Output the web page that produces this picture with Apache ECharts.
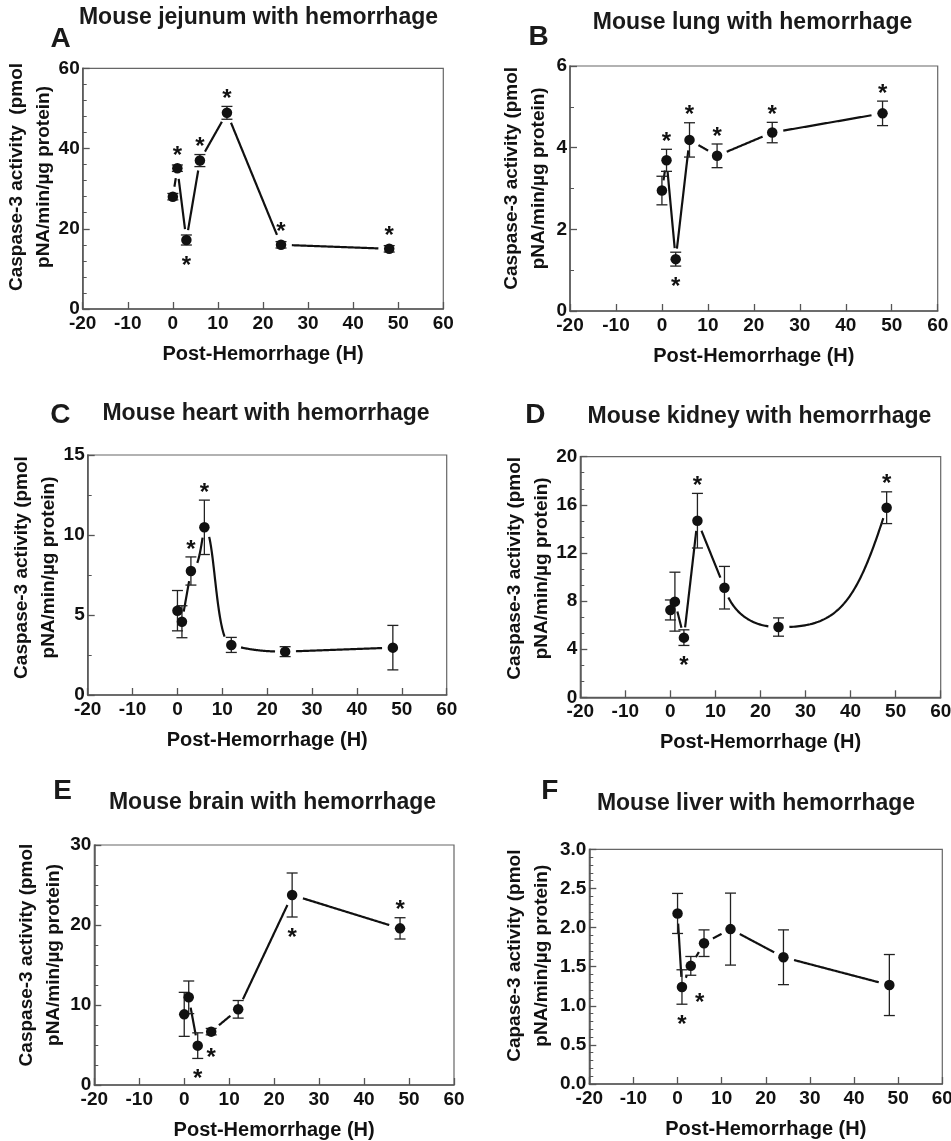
<!DOCTYPE html>
<html><head><meta charset="utf-8">
<script src="https://cdn.jsdelivr.net/npm/echarts@6/dist/echarts.min.js"></script>
<style>html,body{margin:0;padding:0;background:#fff}#c{width:951px;height:1141px}</style>
</head><body><div id="c"></div>
<script>
// ---------------- data ----------------
const hours = [0, 1, 3, 6, 12, 24, 48];
const xTicks = [-20, -10, 0, 10, 20, 30, 40, 50, 60];

const jejunumMean = [28.0, 35.1, 17.2, 37.0, 48.9, 16.0, 15.0];
const jejunumSem  = [0.8, 0.8, 1.25, 1.5, 1.6, 0.8, 0.8];
const jejunumSig  = ['', 'above', 'below', 'above', 'above', 'above', 'above'];
const jejunumTicks = [0, 20, 40, 60];

const lungMean = [2.95, 3.69, 1.27, 4.19, 3.80, 4.37, 4.84];
const lungSem  = [0.35, 0.27, 0.17, 0.42, 0.29, 0.25, 0.30];
const lungSig  = ['', 'above', 'below', 'above', 'above', 'above', 'above'];
const lungTicks = [0, 2, 4, 6];

const heartMean = [5.27, 4.58, 7.75, 10.48, 3.13, 2.71, 2.96];
const heartSem  = [1.26, 1.0, 0.88, 1.7, 0.47, 0.31, 1.39];
const heartSig  = ['', '', 'above', 'above', '', '', ''];
const heartTicks = [0, 5, 10, 15];

const kidneyMean = [7.26, 7.95, 4.96, 14.68, 9.11, 5.84, 15.76];
const kidneySem  = [0.83, 2.45, 0.65, 2.27, 1.77, 0.76, 1.32];
const kidneySig  = ['', '', 'below', 'above', '', '', 'above'];
const kidneyTicks = [0, 4, 8, 12, 16, 20];

const brainMean = [8.83, 10.96, 4.92, 6.67, 9.46, 23.75, 19.58];
const brainSem  = [2.75, 2.04, 1.6, 0.4, 1.1, 2.75, 1.33];
const brainSig  = ['', '', 'below', 'below', '', 'below', 'above'];
const brainTicks = [0, 10, 20, 30];

const liverMean = [2.18, 1.24, 1.51, 1.80, 1.98, 1.62, 1.265];
const liverSem  = [0.256, 0.22, 0.12, 0.17, 0.46, 0.35, 0.39];
const liverSig  = ['', 'below', 'belowRight', '', '', '', ''];
const liverTicks = ['0.0', '0.5', '1.0', '1.5', '2.0', '2.5', '3.0'];

// ---------------- styles / layout ----------------
const FONT = "'Liberation Sans', Arial, Helvetica, sans-serif";
const INK = '#111';
const AXIS = '#555';
const GAP = 10;        // px gap between connecting line and marker centre
const MARK = 10.5;     // marker diameter
const CAP = 5.5;       // error bar cap half width

// bezier control fractions per segment (style of the fitted connecting curve)
const STRAIGHT = [1/3, 1/3, 2/3, 2/3];
const S_CURVE = [0.5, 0, 0.5, 1];
const heartCurve = [STRAIGHT, STRAIGHT, [0.6, 0, 0.8, 0.7], [0.4, 0, 0.4, 1], [0.3, 0.7, 0.6, 1.0], STRAIGHT];
const kidneyCurve = [STRAIGHT, STRAIGHT, STRAIGHT, STRAIGHT, [0.083, 0.37, 0.333, 1.0], [0.56, -0.01, 0.72, 0.2]];

const panels = [
  {letter: 'A', title: 'Mouse jejunum with hemorrhage', mean: jejunumMean, sem: jejunumSem, sig: jejunumSig, ticks: jejunumTicks, minor: 5,
   yname: 'Caspase-3 activity  (pmol\npNA/min/\u00b5g protein)',
   grid: {left: 82.7, top: 68.3, width: 360.6, height: 240.7}, titlePos: [258.5, 18], letterPos: [60.5, 38.8], ynamePos: [30.5, 177]},
  {letter: 'B', title: 'Mouse lung with hemorrhage', mean: lungMean, sem: lungSem, sig: lungSig, ticks: lungTicks, minor: 2,
   yname: 'Caspase-3 activity (pmol\npNA/min/\u00b5g protein)',
   grid: {left: 570, top: 66, width: 367.7, height: 245}, titlePos: [752.5, 22.8], letterPos: [538.7, 37], ynamePos: [525.3, 178.3]},
  {letter: 'C', title: 'Mouse heart with hemorrhage', mean: heartMean, sem: heartSem, sig: heartSig, ticks: heartTicks, minor: 2, curve: heartCurve,
   yname: 'Caspase-3 activity (pmol\npNA/min/\u00b5g protein)',
   grid: {left: 87.7, top: 455, width: 359, height: 240}, titlePos: [266, 413.8], letterPos: [60.3, 415], ynamePos: [35, 567.5]},
  {letter: 'D', title: 'Mouse kidney with hemorrhage', mean: kidneyMean, sem: kidneySem, sig: kidneySig, ticks: kidneyTicks, minor: 3, curve: kidneyCurve,
   yname: 'Caspase-3 activity (pmol\npNA/min/\u00b5g protein)',
   grid: {left: 580.3, top: 456.7, width: 360.4, height: 240.6}, titlePos: [759.5, 416.2], letterPos: [535.3, 415], ynamePos: [527.8, 568.3]},
  {letter: 'E', title: 'Mouse brain with hemorrhage', mean: brainMean, sem: brainSem, sig: brainSig, ticks: brainTicks, minor: 4,
   yname: 'Caspase-3 activity (pmol\npNA/min/\u00b5g protein)',
   grid: {left: 94.3, top: 845, width: 359.7, height: 240}, titlePos: [272.5, 802.8], letterPos: [62.5, 791.7], ynamePos: [39.8, 955]},
  {letter: 'F', title: 'Mouse liver with hemorrhage', mean: liverMean, sem: liverSem, sig: liverSig, ticks: liverTicks, minor: 5, decimals: 1,
   yname: 'Capase-3 activity (pmol\npNA/min/\u00b5g protein)',
   grid: {left: 589.3, top: 849.3, width: 353, height: 234.7}, titlePos: [756, 803.8], letterPos: [549.7, 791.7], ynamePos: [528.3, 955.7]}
];

function bez(P, t) {
  const u = 1 - t;
  const a = u * u * u, b = 3 * u * u * t, c = 3 * u * t * t, d = t * t * t;
  return [a * P[0][0] + b * P[1][0] + c * P[2][0] + d * P[3][0],
          a * P[0][1] + b * P[1][1] + c * P[2][1] + d * P[3][1]];
}

const grids = [], xAxes = [], yAxes = [], series = [], graphics = [];

panels.forEach((p, i) => {
  grids.push(Object.assign({show: true, borderColor: '#666', borderWidth: 1.2, containLabel: false, outerBoundsMode: 'none'}, p.grid));
  xAxes.push({
    gridIndex: i, type: 'value', min: xTicks[0], max: xTicks[xTicks.length - 1], interval: xTicks[1] - xTicks[0],
    axisLine: {show: true, onZero: false, lineStyle: {color: AXIS, width: 1.5}},
    axisTick: {show: true, inside: true, length: 7, lineStyle: {color: AXIS, width: 1.3}},
    axisLabel: {margin: 5, color: INK, fontSize: 19, fontWeight: 'bold', fontFamily: FONT, showMinLabel: true, showMaxLabel: true},
    splitLine: {show: false},
    name: 'Post-Hemorrhage (H)', nameLocation: 'middle', nameGap: 35,
    nameTextStyle: {color: INK, fontSize: 20, fontWeight: 'bold', fontFamily: FONT}
  });
  const tk = p.ticks.map(Number);
  yAxes.push({
    gridIndex: i, type: 'value', min: tk[0], max: tk[tk.length - 1], interval: tk[1] - tk[0],
    axisLine: {show: true, onZero: false, lineStyle: {color: AXIS, width: 1.5}},
    axisTick: {show: true, inside: true, length: 7, lineStyle: {color: AXIS, width: 1.3}},
    minorTick: {show: true, splitNumber: p.minor, length: 4, lineStyle: {color: AXIS, width: 1}},
    axisLabel: {margin: 3, color: INK, fontSize: 19, fontWeight: 'bold', fontFamily: FONT, showMinLabel: true, showMaxLabel: true,
      formatter: v => p.decimals ? v.toFixed(p.decimals) : String(v)},
    splitLine: {show: false}, minorSplitLine: {show: false}
  });

  const xs = hours, ys = p.mean, es = p.sem;
  const segs = [];
  for (let k = 0; k < xs.length - 1; k++) segs.push([xs[k], ys[k], xs[k + 1], ys[k + 1]]);
  const curve = p.curve;

  // connecting line (trimmed near markers)
  series.push({
    type: 'custom', xAxisIndex: i, yAxisIndex: i, z: 2, silent: true, animation: false,
    encode: {x: [0, 2], y: [1, 3]}, data: segs,
    renderItem(params, api) {
      const k = params.dataIndex;
      const x0 = api.value(0), y0 = api.value(1), x1 = api.value(2), y1 = api.value(3);
      const c = curve ? curve[k] : STRAIGHT;
      const P = [api.coord([x0, y0]),
                 api.coord([x0 + (x1 - x0) * c[0], y0 + (y1 - y0) * c[1]]),
                 api.coord([x0 + (x1 - x0) * c[2], y0 + (y1 - y0) * c[3]]),
                 api.coord([x1, y1])];
      const pts = [];
      const N = 80;
      for (let n = 0; n <= N; n++) {
        const q = bez(P, n / N);
        const d0 = Math.hypot(q[0] - P[0][0], q[1] - P[0][1]);
        const d1 = Math.hypot(q[0] - P[3][0], q[1] - P[3][1]);
        if (d0 >= GAP && d1 >= GAP) pts.push(q);
      }
      if (pts.length < 2) return {type: 'group', children: []};
      return {type: 'polyline', shape: {points: pts}, style: {stroke: INK, lineWidth: 2.2, fill: null}};
    }
  });

  const pointData = xs.map((x, k) => [x, ys[k], es[k]]);
  // error bars
  series.push({
    type: 'custom', xAxisIndex: i, yAxisIndex: i, z: 3, silent: true, animation: false,
    encode: {x: 0, y: 1}, data: pointData,
    renderItem(params, api) {
      const x = api.value(0), m = api.value(1), e = api.value(2);
      const t = api.coord([x, m + e]), b = api.coord([x, m - e]);
      const st = {stroke: '#222', lineWidth: 1.3};
      return {type: 'group', children: [
        {type: 'line', shape: {x1: t[0], y1: t[1], x2: b[0], y2: b[1]}, style: st},
        {type: 'line', shape: {x1: t[0] - CAP, y1: t[1], x2: t[0] + CAP, y2: t[1]}, style: st},
        {type: 'line', shape: {x1: b[0] - CAP, y1: b[1], x2: b[0] + CAP, y2: b[1]}, style: st}
      ]};
    }
  });
  // markers
  series.push({
    type: 'scatter', xAxisIndex: i, yAxisIndex: i, z: 4, silent: true, animation: false,
    symbol: 'circle', symbolSize: MARK, itemStyle: {color: INK, opacity: 1},
    data: xs.map((x, k) => [x, ys[k]])
  });
  // significance asterisks
  const sig = p.sig;
  series.push({
    type: 'custom', xAxisIndex: i, yAxisIndex: i, z: 5, silent: true, animation: false,
    encode: {x: 0, y: 1}, data: pointData,
    renderItem(params, api) {
      const s = sig[params.dataIndex];
      if (!s) return {type: 'group', children: []};
      const x = api.value(0), m = api.value(1), e = api.value(2);
      const c = api.coord([x, m]);
      const top = Math.min(api.coord([x, m + e])[1], c[1] - MARK / 2);
      const bot = Math.max(api.coord([x, m - e])[1], c[1] + MARK / 2);
      let tx = c[0], ty;
      if (s === 'above') ty = top - 7;
      else ty = bot + 21;
      if (s === 'belowRight') { tx += 9; ty += 7; }
      return {type: 'text', style: {text: '*', x: tx, y: ty, font: 'bold 24px ' + FONT, fill: INK,
        textAlign: 'center', textVerticalAlign: 'middle', align: 'center', verticalAlign: 'middle'}};
    }
  });

  // titles, panel letters, y-axis names
  graphics.push({type: 'text', x: p.titlePos[0], y: p.titlePos[1], silent: true,
    style: {text: p.title, font: 'bold 23px ' + FONT, fill: '#1a1a1a', textAlign: 'center', textVerticalAlign: 'middle', align: 'center', verticalAlign: 'middle'}});
  graphics.push({type: 'text', x: p.letterPos[0], y: p.letterPos[1], silent: true,
    style: {text: p.letter, font: 'bold 28px ' + FONT, fill: '#1a1a1a', textAlign: 'center', textVerticalAlign: 'middle', align: 'center', verticalAlign: 'middle'}});
  graphics.push({type: 'text', x: p.ynamePos[0], y: p.ynamePos[1], rotation: Math.PI / 2, silent: true,
    style: {text: p.yname, font: 'bold 19px ' + FONT, lineHeight: 27, fill: INK, textAlign: 'center', textVerticalAlign: 'middle', align: 'center', verticalAlign: 'middle'}});
});

const chart = echarts.init(document.getElementById('c'), null, {renderer: 'canvas'});
chart.setOption({
  animation: false,
  backgroundColor: '#fff',
  grid: grids, xAxis: xAxes, yAxis: yAxes, series: series,
  graphic: {elements: graphics}
});
</script></body></html>
